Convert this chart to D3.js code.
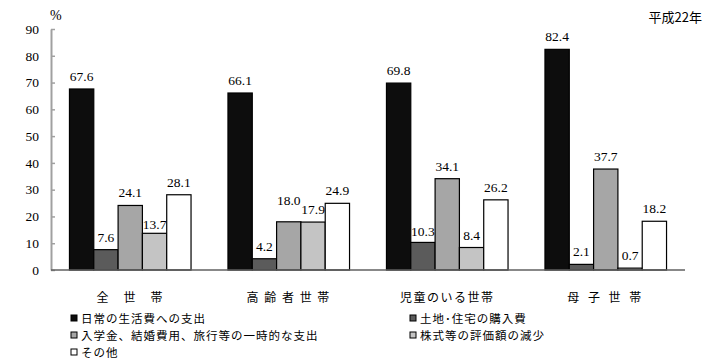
<!DOCTYPE html>
<html>
<head>
<meta charset="utf-8">
<script src="https://cdn.jsdelivr.net/npm/d3@7"></script>
<style>
body { margin: 0; background: #fff; }
text { fill: #000; }
</style>
</head>
<body>
<div id="chart"></div>
<script>
// 世帯区分
var categories = ["全　世　帯", "高 齢 者 世 帯", "児童のいる世帯", "母 子 世 帯"];
// 系列名
var seriesNames = ["日常の生活費への支出", "土地･住宅の購入費", "入学金、結婚費用、旅行等の一時的な支出", "株式等の評価額の減少", "その他"];
var seriesColors = ["#0d0d0d", "#5b5b5b", "#a6a6a6", "#c4c4c4", "#ffffff"];
// 値 (%)  系列ごと、世帯区分の順
var dailyLiving = [67.6, 66.1, 69.8, 82.4];
var landHouse = [7.6, 4.2, 10.3, 2.1];
var oneTime = [24.1, 18.0, 34.1, 37.7];
var stocks = [13.7, 17.9, 8.4, 0.7];
var others = [28.1, 24.9, 26.2, 18.2];
var yTicks = [0, 10, 20, 30, 40, 50, 60, 70, 80, 90];

var seriesValues = [dailyLiving, landHouse, oneTime, stocks, others];

var w_svg = 714, h_svg = 363;
var left = 51, right = 685, top_ = 29, bottom = 270;

var svg = d3.select("#chart").append("svg")
  .attr("width", w_svg)
  .attr("height", h_svg);

var y = d3.scaleLinear().domain([0, 90]).range([bottom, top_]);
var x0 = d3.scaleBand().domain(categories).range([left, right])
  .paddingInner(0.233).paddingOuter(0.1165);
var x1 = d3.scaleBand().domain(d3.range(seriesNames.length)).range([0, x0.bandwidth()]);

// y axis
var yAxis = svg.append("g")
  .attr("transform", "translate(" + left + ",0)")
  .call(d3.axisLeft(y).tickValues(yTicks).tickSizeInner(-4).tickSizeOuter(0).tickPadding(12));
yAxis.select(".domain").attr("stroke", "#a0a0a0").attr("stroke-width", 2);
yAxis.selectAll(".tick line").attr("stroke", "#a0a0a0").attr("stroke-width", 1.5);
yAxis.selectAll(".tick text")
  .style("font-family", "'Liberation Serif', serif")
  .style("font-size", "13.5px")
  .attr("fill", "#000");

// bars
var rows = [];
categories.forEach(function(c, ci) {
  seriesValues.forEach(function(vals, si) {
    rows.push({cat: c, s: si, value: vals[ci]});
  });
});

var groups = svg.append("g");
groups.selectAll("rect")
  .data(rows)
  .enter()
  .append("rect")
  .attr("x", function(d) { return x0(d.cat) + x1(d.s) })
  .attr("y", function(d) { return y(d.value) })
  .attr("width", x1.bandwidth())
  .attr("height", function(d) { return bottom - y(d.value) })
  .style("fill", function(d) { return seriesColors[d.s] })
  .style("stroke", "#000")
  .style("stroke-width", "1.2px");

// x axis line
svg.append("line")
  .attr("x1", left).attr("x2", right)
  .attr("y1", bottom).attr("y2", bottom)
  .attr("stroke", "#606060")
  .attr("stroke-width", 1.5);

// value labels
svg.append("g").selectAll("text")
  .data(rows)
  .enter()
  .append("text")
  .attr("x", function(d) { return x0(d.cat) + x1(d.s) + x1.bandwidth() / 2 })
  .attr("y", function(d) {
    var dy = 8;
    // 18.0 is pushed up so it does not hit 17.9
    if (d.s == 2 && d.cat == categories[1]) dy = 17;
    if (d.s == 3 && d.cat == categories[0]) dy = 4;
    if (d.s == 1 && d.cat == categories[2]) dy = 6;
    return y(d.value) - dy;
  })
  .style("text-anchor", "middle")
  .style("font-family", "'Liberation Serif', serif")
  .style("font-size", "13.5px")
  .text(function(d) { return d.value.toFixed(1) });

// category labels
svg.append("g").selectAll("text")
  .data(categories)
  .enter()
  .append("text")
  .attr("x", function(d) { return x0(d) + x0.bandwidth() / 2 })
  .attr("y", 302)
  .style("text-anchor", "middle")
  .style("font-family", "'Noto Sans CJK JP', sans-serif")
  .style("font-size", "12px")
  .style("letter-spacing", function(d, i) { return i == 3 ? "3px" : "1.5px" })
  .text(function(d) { return d });

// unit and year
svg.append("text")
  .attr("x", 50).attr("y", 20)
  .style("font-family", "'Liberation Serif', serif")
  .style("font-size", "14px")
  .text("%");
svg.append("text")
  .attr("x", 702).attr("y", 22)
  .style("text-anchor", "end")
  .style("font-family", "'Noto Sans CJK JP', sans-serif")
  .style("font-size", "13px")
  .text("平成22年");

// legend
var legend = svg.append("g").selectAll("g")
  .data(seriesNames)
  .enter()
  .append("g")
  .attr("transform", function(d, i) {
    return "translate(" + (i % 2 == 0 ? 71 : 410) + "," + (319 + Math.floor(i / 2) * 17) + ")";
  });
legend.append("rect")
  .attr("x", 0).attr("y", -4)
  .attr("width", 6).attr("height", 6)
  .style("fill", function(d, i) { return seriesColors[i] })
  .style("stroke", "#000")
  .style("stroke-width", "1px");
legend.append("text")
  .attr("x", 10).attr("y", 4)
  .style("font-family", "'Noto Sans CJK JP', sans-serif")
  .style("font-size", "11.5px")
  .style("letter-spacing", "1px")
  .text(function(d) { return d });
</script>
</body>
</html>
